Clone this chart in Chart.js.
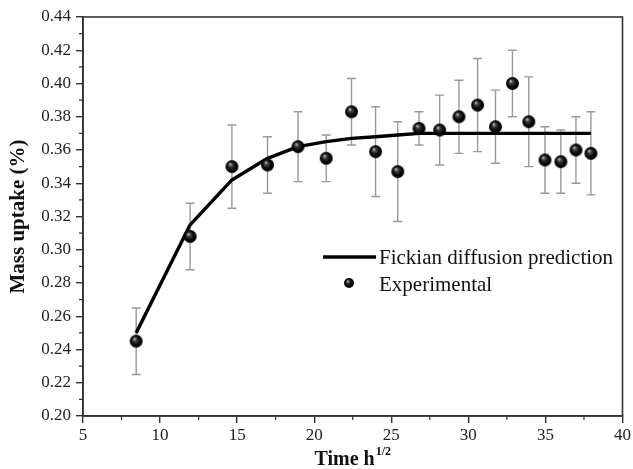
<!DOCTYPE html>
<html>
<head>
<script src="https://cdn.jsdelivr.net/npm/chart.js@4.4.0/dist/chart.umd.min.js"></script>
<style>
  html, body { margin: 0; padding: 0; background: #fff; }
  #wrap { width: 633px; height: 469px; }
</style>
</head>
<body>
<div id="wrap"><canvas id="myChart"></canvas></div>
<script>
// data
const timeX = [8.45, 11.95, 14.66, 16.97, 18.95, 20.78, 22.42, 23.98, 25.42, 26.8, 28.14, 29.39, 30.6, 31.76, 32.86, 33.92, 34.97, 36.0, 36.98, 37.95];
const uptake = [0.245, 0.308, 0.350, 0.351, 0.362, 0.355, 0.383, 0.359, 0.347, 0.373, 0.372, 0.380, 0.387, 0.374, 0.400, 0.377, 0.354, 0.353, 0.360, 0.358];
const uptakeErr = [0.020, 0.020, 0.025, 0.017, 0.021, 0.014, 0.020, 0.027, 0.030, 0.010, 0.021, 0.022, 0.028, 0.022, 0.020, 0.027, 0.020, 0.019, 0.020, 0.025];
const fickian = [0.250, 0.315, 0.342, 0.355, 0.362, 0.365, 0.367, 0.368, 0.369, 0.370, 0.370, 0.370, 0.370, 0.370, 0.370, 0.370, 0.370, 0.370, 0.370, 0.370];
const seriesNames = ['Fickian diffusion prediction', 'Experimental'];
const axisTitles = ['Time h', '1/2', 'Mass uptake (%)'];

const serif = "'Liberation Serif', 'Times New Roman', serif";

// shaded sphere used as point marker
function sphere(r) {
  const c = document.createElement('canvas');
  c.width = c.height = r * 2 + 2;
  const g = c.getContext('2d');
  const cx = r + 1, cy = r + 1;
  const grad = g.createRadialGradient(cx - r * 0.3, cy - r * 0.4, 0, cx, cy, r);
  grad.addColorStop(0, '#dcdcdc');
  grad.addColorStop(0.28, '#444');
  grad.addColorStop(0.65, '#0a0a0a');
  grad.addColorStop(1, '#000');
  g.fillStyle = grad;
  g.beginPath();
  g.arc(cx, cy, r, 0, Math.PI * 2);
  g.fill();
  return c;
}
const bigBall = sphere(6.5);
const smallBall = sphere(5);

// error bars, frame, minor ticks, legend and x title
const extras = {
  id: 'extras',
  beforeDatasetsDraw(chart) {
    const ctx = chart.ctx, x = chart.scales.x, y = chart.scales.y;
    ctx.save();
    ctx.strokeStyle = '#999';
    ctx.lineWidth = 1.4;
    for (let i = 0; i < timeX.length; i++) {
      const px = x.getPixelForValue(timeX[i]);
      const top = y.getPixelForValue(uptake[i] + uptakeErr[i]);
      const bot = y.getPixelForValue(uptake[i] - uptakeErr[i]);
      ctx.beginPath();
      ctx.moveTo(px, top); ctx.lineTo(px, bot);
      ctx.moveTo(px - 4.5, top); ctx.lineTo(px + 4.5, top);
      ctx.moveTo(px - 4.5, bot); ctx.lineTo(px + 4.5, bot);
      ctx.stroke();
    }
    ctx.restore();
  },
  afterDraw(chart) {
    const ctx = chart.ctx, a = chart.chartArea, x = chart.scales.x, y = chart.scales.y;
    ctx.save();
    // frame
    ctx.strokeStyle = '#333';
    ctx.lineWidth = 1.6;
    ctx.strokeRect(a.left, a.top, a.right - a.left, a.bottom - a.top);
    // minor ticks
    ctx.beginPath();
    for (let v = 7.5; v < 40; v += 5) {
      const px = x.getPixelForValue(v);
      ctx.moveTo(px, a.bottom); ctx.lineTo(px, a.bottom + 4);
    }
    for (let v = 0.21; v < 0.44; v += 0.02) {
      const py = y.getPixelForValue(v);
      ctx.moveTo(a.left, py); ctx.lineTo(a.left - 4, py);
    }
    ctx.lineWidth = 1.2;
    ctx.stroke();
    // legend
    ctx.fillStyle = '#111';
    ctx.font = '21px ' + serif;
    ctx.textBaseline = 'middle';
    ctx.textAlign = 'left';
    ctx.strokeStyle = '#000';
    ctx.lineWidth = 3.4;
    ctx.beginPath();
    ctx.moveTo(323, 257); ctx.lineTo(376, 257);
    ctx.stroke();
    ctx.fillText(seriesNames[0], 379, 258);
    ctx.drawImage(smallBall, 349 - smallBall.width / 2, 283 - smallBall.height / 2);
    ctx.fillText(seriesNames[1], 379, 285);
    // x title with superscript
    ctx.textBaseline = 'alphabetic';
    ctx.font = 'bold 20px ' + serif;
    const w1 = ctx.measureText(axisTitles[0]).width;
    ctx.font = 'bold 12px ' + serif;
    const w2 = ctx.measureText(axisTitles[1]).width;
    const cx = (a.left + a.right) / 2;
    const sx = cx - (w1 + w2 + 1) / 2;
    ctx.font = 'bold 20px ' + serif;
    ctx.fillText(axisTitles[0], sx, 465);
    ctx.font = 'bold 12px ' + serif;
    ctx.fillText(axisTitles[1], sx + w1 + 1, 455);
    ctx.restore();
  }
};

const ctx = document.getElementById('myChart').getContext('2d');
const chart = new Chart(ctx, {
  type: 'scatter',
  data: {
    datasets: [{
      label: seriesNames[1],
      data: timeX.map((t, i) => ({ x: t, y: uptake[i] })),
      pointStyle: bigBall,
      order: 1
    }, {
      type: 'line',
      label: seriesNames[0],
      data: timeX.map((t, i) => ({ x: t, y: fickian[i] })),
      borderColor: '#000',
      borderWidth: 3.4,
      borderJoinStyle: 'round',
      pointRadius: 0,
      tension: 0,
      fill: false,
      order: 2
    }]
  },
  options: {
    responsive: true,
    maintainAspectRatio: false,
    animation: false,
    layout: { padding: { top: 17, right: 9, left: 0, bottom: 0 } },
    plugins: { legend: { display: false }, tooltip: { enabled: false } },
    scales: {
      x: {
        type: 'linear', min: 5, max: 40,
        ticks: { stepSize: 5, color: '#222', font: { family: serif, size: 17 }, padding: 2, maxRotation: 0 },
        grid: { drawOnChartArea: false, tickLength: 7, color: '#333', lineWidth: 1.4 },
        border: { color: '#333', width: 1.6 },
        afterFit(s) { s.height = 53; }
      },
      y: {
        min: 0.20, max: 0.44,
        ticks: { stepSize: 0.02, color: '#222', font: { family: serif, size: 17 }, padding: 5,
          callback: v => v.toFixed(2) },
        grid: { drawOnChartArea: false, tickLength: 7, color: '#333', lineWidth: 1.4 },
        border: { color: '#333', width: 1.6 },
        title: { display: true, text: axisTitles[2], color: '#111', font: { family: serif, size: 21, weight: 'bold' }, padding: { top: 6, bottom: 0 } },
        afterFit(s) { s.width = 83; }
      }
    }
  },
  plugins: [extras]
});
</script>
</body>
</html>
